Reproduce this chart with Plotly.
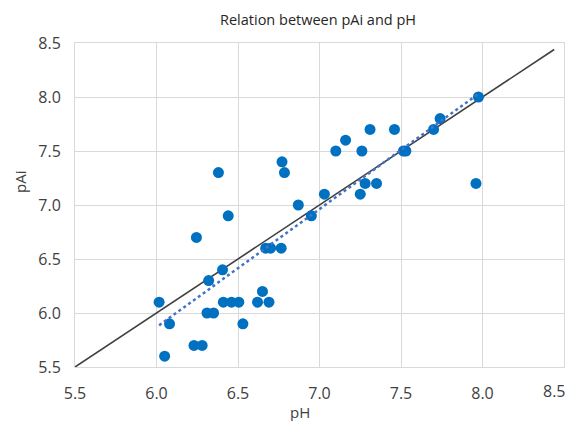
import numpy as np
import plotly.graph_objects as go

# Data
ph = [6.38, 6.77, 6.785, 6.44, 6.87, 7.03, 6.95, 6.245, 6.67, 6.70, 6.765,
      6.405, 6.32, 6.016, 6.41, 6.46, 6.505, 6.62, 6.69, 6.65, 6.08, 6.31,
      6.35, 6.53, 6.23, 6.28, 6.05, 7.25, 7.28, 7.35, 7.96, 7.10, 7.16, 7.26,
      7.31, 7.46, 7.515, 7.53, 7.70, 7.74, 7.975]
pai = [7.3, 7.4, 7.3, 6.9, 7.0, 7.1, 6.9, 6.7, 6.6, 6.6, 6.6,
       6.4, 6.3, 6.1, 6.1, 6.1, 6.1, 6.1, 6.1, 6.2, 5.9, 6.0,
       6.0, 5.9, 5.7, 5.7, 5.6, 7.1, 7.2, 7.2, 7.2, 7.5, 7.6, 7.5,
       7.7, 7.7, 7.5, 7.5, 7.7, 7.8, 8.0]
ref_line = [5.5, 8.44]          # y = x reference line extent
tick_vals = [5.5, 6.0, 6.5, 7.0, 7.5, 8.0, 8.5]
tick_text = ["5.5", "6.0", "6.5", "7.0", "7.5", "8.0", "8.5"]

# linear trendline fitted to the points
slope, intercept = np.polyfit(ph, pai, 1)
trend_x = [min(ph), max(ph)]
trend_y = [slope * v + intercept for v in trend_x]

FONT = "Open Sans"
TXT = "#404040"
GRID = "#D9D9D9"

W, H = 569, 421
L, R, T, B = 75, 5, 43, 54
PW, PH = W - L - R, H - T - B


def px_x(x):
    return (x - L) / PW


def px_y(y):  # y measured from top of figure
    return (H - y - B) / PH


fig = go.Figure()
fig.add_trace(go.Scatter(x=ref_line, y=ref_line, mode="lines",
                         line=dict(color="#404040", width=1.6),
                         hoverinfo="skip", showlegend=False))
fig.add_trace(go.Scatter(x=ph, y=pai, mode="markers",
                         marker=dict(color="#0070C0", size=11),
                         showlegend=False))
fig.add_trace(go.Scatter(x=trend_x, y=trend_y, mode="lines",
                         line=dict(color="#4472C4", width=2.5, dash="dot"),
                         hoverinfo="skip", showlegend=False))

axis_common = dict(range=[5.5, 8.5],
                   showgrid=True, gridcolor=GRID, gridwidth=1,
                   showline=True, linecolor=GRID, linewidth=1, mirror=True,
                   zeroline=False, ticks="",
                   tickfont=dict(family=FONT, size=16, color=TXT))

fig.update_xaxes(**axis_common, tickvals=tick_vals[:-1],
                 ticktext=tick_text[:-1], ticklabelstandoff=12)
fig.update_yaxes(**axis_common, tickvals=tick_vals, ticktext=tick_text,
                 ticklabelstandoff=10)

fig.update_layout(
    width=W, height=H,
    margin=dict(l=L, r=R, t=T, b=B, autoexpand=False),
    paper_bgcolor="white", plot_bgcolor="white",
    annotations=[
        dict(text="Relation between pAi and pH", x=px_x(318), y=px_y(20),
             xref="paper", yref="paper", showarrow=False,
             xanchor="center", yanchor="middle",
             font=dict(family=FONT, size=14.5, color="#262626")),
        dict(text="pH", x=px_x(300), y=px_y(412),
             xref="paper", yref="paper", showarrow=False,
             xanchor="center", yanchor="middle",
             font=dict(family=FONT, size=15, color=TXT)),
        dict(text="pAi", x=px_x(20), y=px_y(182),
             xref="paper", yref="paper", showarrow=False, textangle=-90,
             xanchor="center", yanchor="middle",
             font=dict(family=FONT, size=15, color=TXT)),
        # last x tick label, pulled inward as in the reference
        dict(text=tick_text[-1], x=px_x(568), y=px_y(391),
             xref="paper", yref="paper", showarrow=False,
             xanchor="right", yanchor="middle",
             font=dict(family=FONT, size=16, color=TXT)),
    ],
)

fig.write_html("out.html",
               config={"displayModeBar": False},
               post_script="document.body.style.margin='0px';"
                           "document.body.style.overflow='hidden';")
